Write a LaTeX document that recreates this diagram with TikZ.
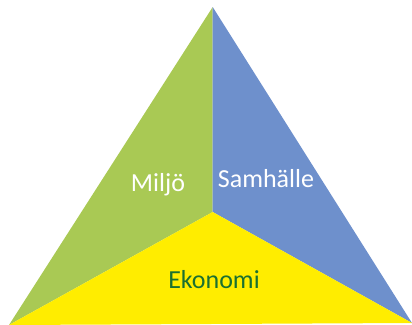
\documentclass[tikz,border=0pt]{standalone}
\usepackage{fontspec}
\setmainfont{Carlito}
\definecolor{leaf}{RGB}{169,201,84}
\definecolor{sky}{RGB}{110,144,204}
\definecolor{sun}{RGB}{255,237,0}
\definecolor{forest}{RGB}{26,112,48}
\tikzset{lbl/.style={font=\fontsize{26}{31}\selectfont, anchor=base, inner sep=0pt}}
\begin{document}
\begin{tikzpicture}[x=1pt,y=-1pt]
\useasboundingbox (0,0) rectangle (412,324);
\coordinate (apex) at (212.7,7);
\coordinate (bl) at (9,325);
\coordinate (br) at (412,323);
\coordinate (mid) at (212.7,212);
\fill[leaf] (apex) -- (mid) -- (bl) -- cycle;
\fill[sky] (apex) -- (br) -- (mid) -- cycle;
\fill[sun] (mid) -- (br) -- (bl) -- cycle;
\node[lbl, text=white] (miljo) at (158,191.5) {Miljö};
\node[lbl, text=white] (samhalle) at (266,187.5) {Samhälle};
\node[lbl, text=forest] (ekonomi) at (214,288) {Ekonomi};
\end{tikzpicture}
\end{document}
